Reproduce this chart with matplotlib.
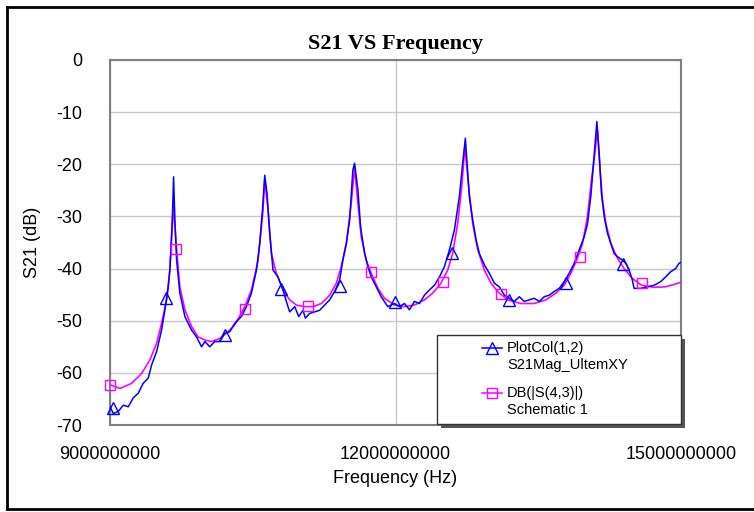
import numpy as np
import matplotlib.pyplot as plt
from matplotlib.lines import Line2D
from matplotlib.patches import Rectangle
from matplotlib.ticker import FuncFormatter

# measured trace, PlotCol(1,2) / S21Mag_UltemXY  (GHz, dB)
meas_f = [9.000, 9.035, 9.087, 9.140, 9.192, 9.244, 9.297, 9.349, 9.402, 9.437,
          9.490, 9.542, 9.577, 9.612, 9.629, 9.647, 9.658, 9.668, 9.682, 9.700,
          9.734, 9.787, 9.857, 9.909, 9.962, 9.997, 10.049, 10.101, 10.154, 10.206,
          10.259, 10.311, 10.381, 10.434, 10.486, 10.539, 10.573, 10.602, 10.626, 10.650,
          10.678, 10.713, 10.765, 10.818, 10.853, 10.888, 10.941, 10.983, 11.028, 11.053,
          11.098, 11.150, 11.203, 11.255, 11.308, 11.360, 11.413, 11.447, 11.483, 11.518,
          11.552, 11.570, 11.605, 11.633, 11.675, 11.710, 11.745, 11.798, 11.850, 11.919,
          11.990, 12.042, 12.094, 12.147, 12.199, 12.252, 12.304, 12.357, 12.409, 12.462,
          12.514, 12.567, 12.619, 12.671, 12.706, 12.734, 12.776, 12.811, 12.847, 12.881,
          12.934, 12.986, 13.039, 13.091, 13.144, 13.196, 13.248, 13.301, 13.353, 13.406,
          13.458, 13.511, 13.563, 13.616, 13.668, 13.720, 13.773, 13.825, 13.878, 13.930,
          13.983, 14.017, 14.053, 14.080, 14.116, 14.140, 14.164, 14.193, 14.227, 14.263,
          14.297, 14.332, 14.385, 14.420, 14.455, 14.489, 14.507, 14.577, 14.647, 14.717,
          14.787, 14.839, 14.892, 14.944, 14.979, 15.000]
meas_db = [-66.5, -67.8, -67.4, -66.2, -66.5, -64.8, -63.9, -62.0, -61.0, -58.5,
           -55.9, -51.8, -47.9, -43.5, -40.3, -33.9, -28.8, -22.4, -30.7, -38.4,
           -44.7, -49.2, -51.8, -53.1, -55.0, -54.0, -55.0, -54.0, -54.0, -52.4,
           -52.1, -50.5, -49.2, -47.3, -44.7, -40.3, -35.2, -28.8, -22.1, -25.6,
           -33.2, -40.3, -41.6, -44.1, -46.3, -48.3, -47.3, -49.2, -48.0, -49.5,
           -48.6, -48.3, -48.0, -47.0, -46.0, -44.4, -42.2, -38.4, -35.2, -30.7,
           -21.1, -19.8, -24.9, -32.0, -37.1, -39.6, -41.6, -43.5, -45.4, -47.3,
           -46.7, -47.3, -46.7, -47.9, -46.3, -46.7, -45.1, -44.1, -43.2, -41.6,
           -39.6, -36.4, -32.6, -26.2, -19.8, -15.0, -26.2, -30.7, -34.5, -37.1,
           -39.3, -40.9, -42.8, -43.5, -45.1, -45.7, -46.3, -45.4, -46.3, -46.0,
           -45.7, -46.3, -45.4, -45.1, -44.4, -43.8, -42.5, -40.9, -39.0, -36.4,
           -33.9, -31.5, -26.0, -20.0, -11.8, -17.9, -25.6, -30.0, -33.2, -35.2,
           -37.1, -37.7, -38.4, -39.0, -40.3, -42.2, -43.8, -43.8, -43.5, -43.2,
           -42.5, -41.6, -40.6, -40.0, -39.0, -38.8]
meas_mk_f = [9.035, 9.587, 10.206, 10.801, 11.413, 11.990, 12.591, 13.196, 13.790, 14.395]
meas_mk_db = [-66.8, -45.6, -52.7, -44.0, -43.3, -46.5, -37.0, -46.0, -42.8, -39.2]

# simulated trace, DB(|S(4,3)|) / Schematic 1
sim_f = [9.000, 9.105, 9.228, 9.333, 9.420, 9.490, 9.542, 9.595, 9.629, 9.647,
         9.666, 9.700, 9.734, 9.787, 9.857, 9.926, 9.997, 10.067, 10.154, 10.241,
         10.311, 10.416, 10.486, 10.556, 10.608, 10.626, 10.661, 10.696, 10.748, 10.818,
         10.888, 10.958, 11.045, 11.133, 11.221, 11.308, 11.378, 11.430, 11.483, 11.535,
         11.570, 11.598, 11.640, 11.693, 11.745, 11.815, 11.885, 11.990, 12.094, 12.199,
         12.304, 12.391, 12.479, 12.548, 12.601, 12.654, 12.696, 12.729, 12.776, 12.811,
         12.864, 12.934, 13.004, 13.073, 13.178, 13.318, 13.458, 13.581, 13.686, 13.773,
         13.843, 13.912, 13.965, 14.017, 14.063, 14.087, 14.122, 14.150, 14.175, 14.210,
         14.263, 14.332, 14.402, 14.489, 14.587, 14.717, 14.839, 14.990, 15.000]
sim_db = [-62.3, -63.0, -62.0, -60.1, -57.5, -54.3, -50.5, -46.0, -40.3, -33.9,
          -28.0, -36.4, -43.5, -47.9, -51.1, -53.1, -53.7, -54.0, -53.4, -52.1,
          -50.8, -47.3, -44.1, -38.4, -28.8, -23.0, -28.8, -37.1, -40.9, -44.1,
          -46.0, -47.0, -47.3, -47.3, -46.7, -45.1, -42.8, -39.6, -35.2, -27.5,
          -20.5, -26.2, -33.9, -38.4, -40.9, -43.8, -45.7, -47.0, -47.3, -47.0,
          -46.0, -44.7, -42.8, -40.3, -37.1, -31.3, -24.3, -16.6, -25.6, -31.3,
          -36.4, -40.3, -42.8, -44.4, -46.0, -46.7, -46.7, -46.0, -44.7, -43.2,
          -40.9, -38.0, -35.2, -30.0, -22.4, -19.2, -13.4, -21.1, -26.8, -31.3,
          -35.2, -38.0, -40.0, -41.9, -43.2, -43.6, -43.5, -42.7, -42.6]
sim_mk_f = [9.000, 9.692, 10.421, 11.080, 11.738, 12.504, 13.109, 13.941, 14.594]
sim_mk_db = [-62.3, -36.2, -47.8, -47.1, -40.6, -42.5, -44.9, -37.7, -42.8]

x_ticks = [9e9, 12e9, 15e9]
y_ticks = [0, -10, -20, -30, -40, -50, -60, -70]

BLUE = "#0000ff"
PINK = "#ff00ff"

plt.rcParams["font.family"] = ["Liberation Sans", "DejaVu Sans"]
plt.rcParams["axes.unicode_minus"] = False

W, H = 754, 512
fig = plt.figure(figsize=(W / 100, H / 100), dpi=100)
ax = fig.add_axes([110 / W, 1 - 425 / H, 571 / W, 365 / H])


def px(x, y):
    return x / W, 1 - y / H


ghz = 1e9
ax.plot(np.array(sim_f) * ghz, sim_db, color=PINK, lw=1.2, zorder=3)
ax.plot(np.array(meas_f) * ghz, meas_db, color=BLUE, lw=1.1, zorder=4)
ax.plot(np.array(sim_mk_f) * ghz, sim_mk_db, ls="none", marker="s", ms=7.5,
        mfc="none", mec=PINK, mew=1.0, zorder=5, clip_on=False)
ax.plot(np.array(meas_mk_f) * ghz, meas_mk_db, ls="none", marker="^", ms=8,
        mfc="none", mec=BLUE, mew=1.0, zorder=5, clip_on=False)

ax.set_xlim(9e9, 15e9)
ax.set_ylim(-70, 0)
ax.set_xticks(x_ticks)
ax.set_yticks(y_ticks)
ax.xaxis.set_major_formatter(FuncFormatter(lambda v, p: f"{v:.0f}"))
ax.tick_params(length=0, labelsize=13, colors="black")
ax.tick_params(axis="x", pad=15)
ax.tick_params(axis="y", pad=20)
ax.grid(True, color="#c8c8c8", lw=1.0)
ax.set_axisbelow(True)
for s in ax.spines.values():
    s.set_color("#808080")
    s.set_linewidth(1.5)

ax.set_xlabel("Frequency (Hz)", fontsize=13, labelpad=5)
ax.set_ylabel("S21 (dB)", fontsize=13, labelpad=11)
ax.set_title("S21 VS Frequency", fontsize=16, fontweight="bold",
             family="Liberation Serif", pad=8)

# legend box with drop shadow, drawn by hand so the markers sit on the first text line
x0, y0 = px(437, 424)
x1, y1 = px(681, 335)
fig.add_artist(Rectangle(px(441, 428), x1 - x0, y1 - y0, transform=fig.transFigure,
                         facecolor="#555555", edgecolor="none", zorder=8))
fig.add_artist(Rectangle((x0, y0), x1 - x0, y1 - y0, transform=fig.transFigure,
                         facecolor="white", edgecolor="#333333", lw=1.0, zorder=9))
entries = [(BLUE, "^", 8, "PlotCol(1,2)", "S21Mag_UltemXY", 348),
           (PINK, "s", 7.5, "DB(|S(4,3)|)", "Schematic 1", 393)]
for col, mk, ms, l1, l2, yy in entries:
    (ax_, ay_), (bx_, by_) = px(482, yy), px(502, yy)
    fig.add_artist(Line2D([ax_, bx_], [ay_, by_], transform=fig.transFigure,
                          color=col, lw=1.1, zorder=10))
    fig.add_artist(Line2D([(ax_ + bx_) / 2], [ay_], transform=fig.transFigure,
                          ls="none", marker=mk, ms=ms, mfc="none", mec=col,
                          mew=1.0, zorder=10))
    fig.text(*px(507, yy), l1, fontsize=10.5, va="center", ha="left", zorder=10)
    fig.text(*px(507, yy + 17), l2, fontsize=10.5, va="center", ha="left", zorder=10)

# outer frame (left, top, bottom edges)
for xs, ys in [((7, 7), (7, 509)), ((7, 754), (7, 7)), ((7, 754), (509, 509))]:
    fig.add_artist(Line2D([x / W for x in xs], [1 - y / H for y in ys],
                          transform=fig.transFigure, color="black", lw=2.0))

fig.savefig("out.png", dpi=100)
